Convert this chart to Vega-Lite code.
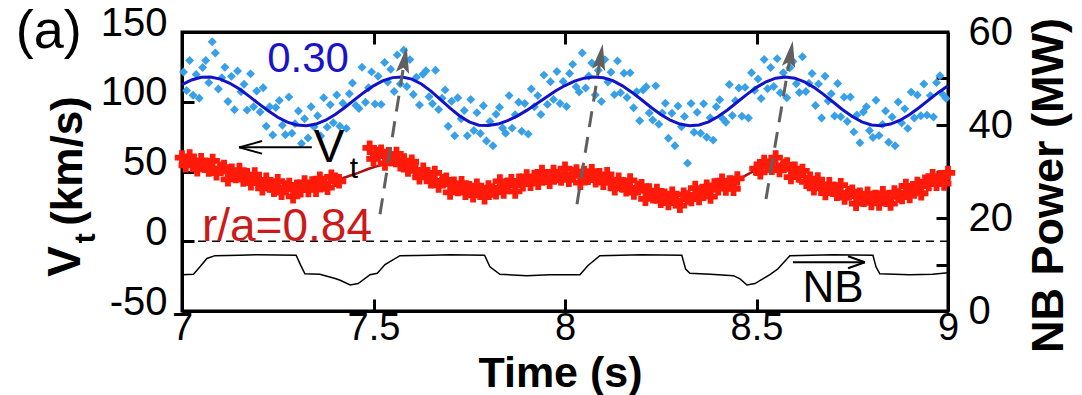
{
"$schema": "https://vega.github.io/schema/vega-lite/v6.json",
"width": 766, "height": 279,
"autosize": "none",
"padding": {"left": 182, "top": 32, "right": 134, "bottom": 84},
"background": "white",
"config": {
  "font": "Liberation Sans",
  "view": {"stroke": "black", "strokeWidth": 3},
  "axis": {"grid": false, "labelFont": "Liberation Sans", "labelFontSize": 40, "labelColor": "black", "labelFlush": false, "labelOverlap": false,
    "domainColor": "black", "domainWidth": 3, "tickColor": "black", "tickWidth": 3, "tickSize": -12,
    "titleFont": "Liberation Sans", "titleFontSize": 44, "titleFontWeight": "bold", "titleColor": "black"}
},
"datasets": {
  "blue": [
{"t":7.004,"v":121.3},{"t":7.012,"v":108.0},{"t":7.020,"v":129.6},{"t":7.029,"v":104.6},{"t":7.037,"v":119.6},{"t":7.045,"v":102.5},{"t":7.054,"v":124.5},{"t":7.062,"v":129.6},{"t":7.070,"v":113.7},{"t":7.079,"v":143},{"t":7.087,"v":135},{"t":7.095,"v":109.2},{"t":7.104,"v":117.2},{"t":7.112,"v":124.7},{"t":7.120,"v":100.2},{"t":7.129,"v":118.2},{"t":7.137,"v":94.2},{"t":7.145,"v":122.1},{"t":7.154,"v":107.1},{"t":7.162,"v":112.6},{"t":7.170,"v":94.0},{"t":7.179,"v":120},{"t":7.187,"v":96.4},{"t":7.195,"v":107.7},{"t":7.204,"v":92.7},{"t":7.212,"v":110.1},{"t":7.220,"v":82.5},{"t":7.229,"v":96.5},{"t":7.237,"v":76.2},{"t":7.245,"v":95.9},{"t":7.254,"v":100.9},{"t":7.262,"v":83.2},{"t":7.270,"v":76.4},{"t":7.279,"v":103.4},{"t":7.287,"v":77.4},{"t":7.295,"v":84.3},{"t":7.304,"v":93.3},{"t":7.312,"v":70.1},{"t":7.320,"v":87.8},{"t":7.329,"v":74},{"t":7.337,"v":96.4},{"t":7.345,"v":82.0},{"t":7.354,"v":90},{"t":7.362,"v":75.4},{"t":7.370,"v":102.8},{"t":7.379,"v":81.8},{"t":7.387,"v":97.9},{"t":7.395,"v":84.9},{"t":7.404,"v":104.9},{"t":7.412,"v":82.4},{"t":7.420,"v":98.9},{"t":7.429,"v":80.9},{"t":7.437,"v":105.7},{"t":7.445,"v":113.4},{"t":7.454,"v":97.4},{"t":7.462,"v":95.1},{"t":7.470,"v":124.7},{"t":7.479,"v":99.7},{"t":7.487,"v":110.1},{"t":7.495,"v":121.4},{"t":7.504,"v":98.4},{"t":7.512,"v":118.3},{"t":7.520,"v":98.1},{"t":7.529,"v":128.1},{"t":7.537,"v":114.2},{"t":7.545,"v":123.3},{"t":7.554,"v":107.3},{"t":7.562,"v":133.6},{"t":7.570,"v":112.8},{"t":7.579,"v":137},{"t":7.587,"v":111},{"t":7.595,"v":130.2},{"t":7.604,"v":105.2},{"t":7.612,"v":117.5},{"t":7.620,"v":97.7},{"t":7.629,"v":119.7},{"t":7.637,"v":122.2},{"t":7.645,"v":103.6},{"t":7.654,"v":98.6},{"t":7.662,"v":122.6},{"t":7.670,"v":94.5},{"t":7.679,"v":102.5},{"t":7.687,"v":108.5},{"t":7.695,"v":82.4},{"t":7.704,"v":100.4},{"t":7.712,"v":75.6},{"t":7.720,"v":102.8},{"t":7.729,"v":87.8},{"t":7.737,"v":93.7},{"t":7.745,"v":75.6},{"t":7.754,"v":101.6},{"t":7.762,"v":79.4},{"t":7.770,"v":92.2},{"t":7.779,"v":77.2},{"t":7.787,"v":97.1},{"t":7.795,"v":71.9},{"t":7.804,"v":85.9},{"t":7.812,"v":68.5},{"t":7.820,"v":91},{"t":7.829,"v":96},{"t":7.837,"v":81.2},{"t":7.845,"v":77.4},{"t":7.854,"v":104.4},{"t":7.862,"v":81.1},{"t":7.870,"v":90.7},{"t":7.879,"v":99.7},{"t":7.887,"v":78.8},{"t":7.895,"v":98.8},{"t":7.904,"v":76.8},{"t":7.912,"v":109.1},{"t":7.920,"v":96.4},{"t":7.929,"v":104.4},{"t":7.937,"v":90.8},{"t":7.945,"v":119.1},{"t":7.954,"v":98.1},{"t":7.962,"v":114.4},{"t":7.970,"v":101.7},{"t":7.979,"v":121.7},{"t":7.987,"v":98.7},{"t":7.995,"v":114.6},{"t":8.004,"v":96.6},{"t":8.012,"v":120.2},{"t":8.020,"v":126.8},{"t":8.029,"v":110.8},{"t":8.037,"v":106.9},{"t":8.045,"v":134.9},{"t":8.054,"v":109.9},{"t":8.062,"v":118.4},{"t":8.070,"v":127.8},{"t":8.079,"v":104.8},{"t":8.087,"v":122.5},{"t":8.095,"v":100.2},{"t":8.104,"v":130.2},{"t":8.112,"v":114.2},{"t":8.120,"v":121.1},{"t":8.129,"v":105.1},{"t":8.137,"v":129.3},{"t":8.145,"v":106.4},{"t":8.154,"v":120.4},{"t":8.162,"v":103.1},{"t":8.170,"v":120.7},{"t":8.179,"v":95.7},{"t":8.187,"v":107.1},{"t":8.195,"v":86.4},{"t":8.204,"v":108.4},{"t":8.212,"v":110.7},{"t":8.220,"v":91.9},{"t":8.229,"v":86.9},{"t":8.237,"v":111.4},{"t":8.245,"v":83.9},{"t":8.254,"v":91.9},{"t":8.262,"v":98.9},{"t":8.270,"v":73.8},{"t":8.279,"v":91.8},{"t":8.287,"v":68.4},{"t":8.295,"v":97},{"t":8.304,"v":82},{"t":8.312,"v":89.4},{"t":8.320,"v":56},{"t":8.329,"v":98.8},{"t":8.337,"v":78.1},{"t":8.345,"v":92.4},{"t":8.354,"v":77.4},{"t":8.362,"v":98.5},{"t":8.370,"v":74.6},{"t":8.379,"v":88.6},{"t":8.387,"v":72.5},{"t":8.395,"v":96.4},{"t":8.404,"v":101.4},{"t":8.412,"v":87.9},{"t":8.420,"v":85.3},{"t":8.429,"v":112.3},{"t":8.437,"v":90.1},{"t":8.445,"v":100.8},{"t":8.454,"v":109.8},{"t":8.462,"v":89.6},{"t":8.470,"v":110.3},{"t":8.479,"v":88.3},{"t":8.487,"v":120.8},{"t":8.495,"v":108.3},{"t":8.504,"v":116.3},{"t":8.512,"v":102.3},{"t":8.520,"v":130.3},{"t":8.529,"v":109.3},{"t":8.537,"v":124.6},{"t":8.545,"v":110.9},{"t":8.554,"v":130.9},{"t":8.562,"v":106.4},{"t":8.570,"v":120.8},{"t":8.579,"v":102.8},{"t":8.587,"v":124.4},{"t":8.595,"v":128.9},{"t":8.604,"v":112.9},{"t":8.612,"v":106.6},{"t":8.620,"v":132.3},{"t":8.629,"v":107.3},{"t":8.637,"v":113.3},{"t":8.645,"v":120.3},{"t":8.654,"v":97.3},{"t":8.662,"v":112.8},{"t":8.670,"v":88.3},{"t":8.679,"v":118.3},{"t":8.687,"v":100.6},{"t":8.695,"v":105.8},{"t":8.704,"v":89.8},{"t":8.712,"v":113.1},{"t":8.720,"v":89.3},{"t":8.729,"v":103.3},{"t":8.737,"v":85.9},{"t":8.745,"v":103.4},{"t":8.754,"v":78.4},{"t":8.762,"v":90.5},{"t":8.770,"v":70.6},{"t":8.779,"v":92.6},{"t":8.787,"v":96.5},{"t":8.795,"v":79.4},{"t":8.804,"v":74.4},{"t":8.812,"v":101.1},{"t":8.820,"v":75.8},{"t":8.829,"v":83.8},{"t":8.837,"v":93.4},{"t":8.845,"v":71},{"t":8.854,"v":89},{"t":8.862,"v":68.4},{"t":8.870,"v":99.8},{"t":8.879,"v":84.8},{"t":8.887,"v":94.9},{"t":8.895,"v":80.9},{"t":8.904,"v":106.9},{"t":8.912,"v":88.4},{"t":8.920,"v":104.9},{"t":8.929,"v":89.9},{"t":8.937,"v":112.7},{"t":8.945,"v":90.4},{"t":8.954,"v":104.4},{"t":8.962,"v":89.1},{"t":8.970,"v":113.7},{"t":8.979,"v":118.7},{"t":8.987,"v":105.1},{"t":8.995,"v":102.4}
  ],
  "bluefit": [
{"t":7.000,"v":112.3},{"t":7.025,"v":115.6},{"t":7.050,"v":117.5},{"t":7.075,"v":117.7},{"t":7.100,"v":116.2},{"t":7.125,"v":113.2},{"t":7.150,"v":109.1},{"t":7.175,"v":104.0},{"t":7.200,"v":98.7},{"t":7.225,"v":93.5},{"t":7.250,"v":88.9},{"t":7.275,"v":85.4},{"t":7.300,"v":83.3},{"t":7.325,"v":82.8},{"t":7.350,"v":84.0},{"t":7.375,"v":86.8},{"t":7.400,"v":90.9},{"t":7.425,"v":95.9},{"t":7.450,"v":101.4},{"t":7.475,"v":106.7},{"t":7.500,"v":111.4},{"t":7.525,"v":115.1},{"t":7.550,"v":117.3},{"t":7.575,"v":117.8},{"t":7.600,"v":116.2},{"t":7.625,"v":112.7},{"t":7.650,"v":107.6},{"t":7.675,"v":101.5},{"t":7.700,"v":95.4},{"t":7.725,"v":89.8},{"t":7.750,"v":85.6},{"t":7.775,"v":83.2},{"t":7.800,"v":82.9},{"t":7.825,"v":84.0},{"t":7.850,"v":86.4},{"t":7.875,"v":89.7},{"t":7.900,"v":93.8},{"t":7.925,"v":98.4},{"t":7.950,"v":103.1},{"t":7.975,"v":107.7},{"t":8.000,"v":111.6},{"t":8.025,"v":114.8},{"t":8.050,"v":116.9},{"t":8.075,"v":117.8},{"t":8.100,"v":117.2},{"t":8.125,"v":115.1},{"t":8.150,"v":111.4},{"t":8.175,"v":106.7},{"t":8.200,"v":101.4},{"t":8.225,"v":95.9},{"t":8.250,"v":90.9},{"t":8.275,"v":86.8},{"t":8.300,"v":84.0},{"t":8.325,"v":82.8},{"t":8.350,"v":83.4},{"t":8.375,"v":85.6},{"t":8.400,"v":89.4},{"t":8.425,"v":94.3},{"t":8.450,"v":99.8},{"t":8.475,"v":105.3},{"t":8.500,"v":110.3},{"t":8.525,"v":114.3},{"t":8.550,"v":116.9},{"t":8.575,"v":117.8},{"t":8.600,"v":116.9},{"t":8.625,"v":114.3},{"t":8.650,"v":110.3},{"t":8.675,"v":105.3},{"t":8.700,"v":99.8},{"t":8.725,"v":94.3},{"t":8.750,"v":89.4},{"t":8.775,"v":85.6},{"t":8.800,"v":83.4},{"t":8.825,"v":82.8},{"t":8.850,"v":84.0},{"t":8.875,"v":86.8},{"t":8.900,"v":90.9},{"t":8.925,"v":95.9},{"t":8.950,"v":101.4},{"t":8.975,"v":106.7},{"t":9.000,"v":111.4}
  ],
  "red": [
{"t":7.00,"v":60},{"t":7.01,"v":54.4},{"t":7.02,"v":60.8},{"t":7.03,"v":55.2},{"t":7.04,"v":51.6},{"t":7.05,"v":58},{"t":7.06,"v":54.2},{"t":7.07,"v":51.4},{"t":7.08,"v":57.6},{"t":7.09,"v":48.8},{"t":7.10,"v":52},{"t":7.11,"v":53.2},{"t":7.12,"v":44.4},{"t":7.13,"v":50.6},{"t":7.14,"v":46.8},{"t":7.15,"v":51},{"t":7.16,"v":44.2},{"t":7.17,"v":47.4},{"t":7.18,"v":41.6},{"t":7.19,"v":47.8},{"t":7.20,"v":42},{"t":7.21,"v":38},{"t":7.22,"v":44},{"t":7.23,"v":40},{"t":7.24,"v":37},{"t":7.25,"v":43},{"t":7.26,"v":34.8},{"t":7.27,"v":38.6},{"t":7.28,"v":40.4},{"t":7.29,"v":32.2},{"t":7.30,"v":39},{"t":7.31,"v":36.6},{"t":7.32,"v":42.2},{"t":7.33,"v":36.8},{"t":7.34,"v":41.4},{"t":7.35,"v":37},{"t":7.36,"v":44.8},{"t":7.37,"v":40.6},{"t":7.38,"v":38.4},{"t":7.39,"v":46.2},{"t":7.40,"v":44},{"t":7.41,"v":43},
{"t":7.49,"v":67},{"t":7.50,"v":59},{"t":7.51,"v":62.6},{"t":7.52,"v":64.2},{"t":7.53,"v":55.8},{"t":7.54,"v":62.4},{"t":7.55,"v":59},{"t":7.56,"v":62.6},{"t":7.57,"v":55.2},{"t":7.58,"v":57.8},{"t":7.59,"v":51.4},{"t":7.60,"v":57},{"t":7.61,"v":50.4},{"t":7.62,"v":45.8},{"t":7.63,"v":51.2},{"t":7.64,"v":46.6},{"t":7.65,"v":43},{"t":7.66,"v":49},{"t":7.67,"v":40},{"t":7.68,"v":43},{"t":7.69,"v":44},{"t":7.70,"v":35},{"t":7.71,"v":41.2},{"t":7.72,"v":37.4},{"t":7.73,"v":41.6},{"t":7.74,"v":34.8},{"t":7.75,"v":38},{"t":7.76,"v":32.9},{"t":7.77,"v":39.8},{"t":7.78,"v":34.7},{"t":7.79,"v":31.6},{"t":7.80,"v":38.5},{"t":7.81,"v":36.3},{"t":7.82,"v":35.1},{"t":7.83,"v":42.9},{"t":7.84,"v":35.7},{"t":7.85,"v":40.5},{"t":7.86,"v":43.1},{"t":7.87,"v":35.7},{"t":7.88,"v":43.3},{"t":7.89,"v":40.9},{"t":7.90,"v":46.5},{"t":7.91,"v":41.3},{"t":7.92,"v":46.1},{"t":7.93,"v":41.9},{"t":7.94,"v":49.7},{"t":7.95,"v":45.5},{"t":7.96,"v":42.6},{"t":7.97,"v":49.7},{"t":7.98,"v":46.8},{"t":7.99,"v":44.9},
{"t":8.00,"v":52},{"t":8.01,"v":44},{"t":8.02,"v":48},{"t":8.03,"v":50},{"t":8.04,"v":42},{"t":8.05,"v":49},{"t":8.06,"v":45.6},{"t":8.07,"v":50.2},{"t":8.08,"v":43.8},{"t":8.09,"v":47.4},{"t":8.10,"v":42},{"t":8.11,"v":48},{"t":8.12,"v":42},{"t":8.13,"v":38},{"t":8.14,"v":44},{"t":8.15,"v":40},{"t":8.16,"v":37.3},{"t":8.17,"v":43.6},{"t":8.18,"v":34.9},{"t":8.19,"v":38.2},{"t":8.20,"v":39.5},{"t":8.21,"v":30.4},{"t":8.22,"v":36.3},{"t":8.23,"v":32.2},{"t":8.24,"v":36.1},{"t":8.25,"v":29},{"t":8.26,"v":32.7},{"t":8.27,"v":27.4},{"t":8.28,"v":34.1},{"t":8.29,"v":28.8},{"t":8.30,"v":25.5},{"t":8.31,"v":33.4},{"t":8.32,"v":31.3},{"t":8.33,"v":30.2},{"t":8.34,"v":38.1},{"t":8.35,"v":31},{"t":8.36,"v":36},{"t":8.37,"v":39},{"t":8.38,"v":32},{"t":8.39,"v":40},{"t":8.40,"v":38},{"t":8.41,"v":43.4},{"t":8.42,"v":37.8},{"t":8.43,"v":42.2},{"t":8.44,"v":37.6},{"t":8.45,"v":45},
{"t":8.50,"v":52},{"t":8.51,"v":49.4},{"t":8.52,"v":56.8},{"t":8.53,"v":54.2},{"t":8.54,"v":52.6},{"t":8.55,"v":60},{"t":8.56,"v":51},{"t":8.57,"v":54},{"t":8.58,"v":55},{"t":8.59,"v":46},{"t":8.60,"v":52},{"t":8.61,"v":47.2},{"t":8.62,"v":50.4},{"t":8.63,"v":42.6},{"t":8.64,"v":44.8},{"t":8.65,"v":38},{"t":8.66,"v":44.2},{"t":8.67,"v":38.4},{"t":8.68,"v":34.6},{"t":8.69,"v":40.8},{"t":8.70,"v":37},{"t":8.71,"v":34.1},{"t":8.72,"v":40.2},{"t":8.73,"v":31.3},{"t":8.74,"v":34.4},{"t":8.75,"v":35.5},{"t":8.76,"v":26.9},{"t":8.77,"v":33.3},{"t":8.78,"v":29.7},{"t":8.79,"v":34.1},{"t":8.80,"v":27.5},{"t":8.81,"v":31.8},{"t":8.82,"v":27.1},{"t":8.83,"v":34.4},{"t":8.84,"v":29.7},{"t":8.85,"v":27},{"t":8.86,"v":34.9},{"t":8.87,"v":32.8},{"t":8.88,"v":31.7},{"t":8.89,"v":39.6},{"t":8.90,"v":32.5},{"t":8.91,"v":37.8},{"t":8.92,"v":41.1},{"t":8.93,"v":34.4},{"t":8.94,"v":42.7},{"t":8.95,"v":41},{"t":8.96,"v":46.6},{"t":8.97,"v":41.2},{"t":8.98,"v":45.8},{"t":8.99,"v":41.4},{"t":9.00,"v":49}
  ],
  "redfit": [
{"t":7.00,"v":57},{"t":7.05,"v":54},{"t":7.10,"v":50},{"t":7.15,"v":46},{"t":7.20,"v":42},{"t":7.25,"v":38.5},{"t":7.30,"v":37},{"t":7.35,"v":39},{"t":7.40,"v":43.5},{"t":7.45,"v":48},{"t":7.50,"v":53},{"t":7.55,"v":56},{"t":7.60,"v":53},{"t":7.65,"v":47},{"t":7.70,"v":40},{"t":7.75,"v":36},{"t":7.80,"v":35.5},{"t":7.85,"v":38.5},{"t":7.90,"v":42},{"t":7.95,"v":45.5},{"t":8.00,"v":47},{"t":8.05,"v":47},{"t":8.10,"v":45.5},{"t":8.15,"v":41.5},{"t":8.20,"v":37},{"t":8.25,"v":32},{"t":8.30,"v":30},{"t":8.35,"v":33},{"t":8.40,"v":38},{"t":8.45,"v":44},{"t":8.50,"v":51},{"t":8.55,"v":54},{"t":8.60,"v":50},{"t":8.65,"v":42},{"t":8.70,"v":36},{"t":8.75,"v":32},{"t":8.80,"v":30},{"t":8.85,"v":32},{"t":8.90,"v":36.5},{"t":8.95,"v":41},{"t":9.00,"v":45}
  ],
  "nb": [
{"t":7.000,"p":7.8},{"t":7.030,"p":7.9},{"t":7.047,"p":9.5},{"t":7.065,"p":11.3},{"t":7.086,"p":11.9},{"t":7.150,"p":12.0},{"t":7.200,"p":12.1},{"t":7.298,"p":12.0},{"t":7.310,"p":9.8},{"t":7.321,"p":8.0},{"t":7.360,"p":7.9},{"t":7.400,"p":7.0},{"t":7.413,"p":6.6},{"t":7.439,"p":5.6},{"t":7.460,"p":5.9},{"t":7.491,"p":7.8},{"t":7.510,"p":8.1},{"t":7.530,"p":10.0},{"t":7.569,"p":11.9},{"t":7.650,"p":12.0},{"t":7.700,"p":12.1},{"t":7.790,"p":12.0},{"t":7.804,"p":9.5},{"t":7.830,"p":7.9},{"t":7.900,"p":7.6},{"t":7.960,"p":7.8},{"t":8.039,"p":7.8},{"t":8.060,"p":9.8},{"t":8.091,"p":11.9},{"t":8.200,"p":12.1},{"t":8.305,"p":12.0},{"t":8.315,"p":9.0},{"t":8.326,"p":8.1},{"t":8.380,"p":7.9},{"t":8.440,"p":7.6},{"t":8.457,"p":6.9},{"t":8.475,"p":5.6},{"t":8.496,"p":5.9},{"t":8.535,"p":7.8},{"t":8.555,"p":9.0},{"t":8.587,"p":11.9},{"t":8.700,"p":12.1},{"t":8.804,"p":12.0},{"t":8.812,"p":9.5},{"t":8.822,"p":8.0},{"t":8.900,"p":7.8},{"t":8.960,"p":7.9},{"t":9.000,"p":8.2}
  ],
  "gray": [
{"t":7.517,"v":19.4,"t2":7.5804,"v2":128.6},{"t":8.0313,"v":26.6,"t2":8.0922,"v2":130.8},{"t":8.5248,"v":30.2,"t2":8.5883,"v2":132.9}
  ],
  "grayhead": [
{"t":7.5804,"v":128.6},{"t":8.0922,"v":130.8},{"t":8.5883,"v":132.9}
  ],
  "arrows": [
{"t":7.339,"v":67.3,"t2":7.149,"v2":67.3},{"t":7.149,"v":67.3,"t2":7.209,"v2":71.8},{"t":7.149,"v":67.3,"t2":7.209,"v2":62.8},
{"t":8.595,"v":-15.1,"t2":8.783,"v2":-15.1},{"t":8.783,"v":-15.1,"t2":8.739,"v2":-10.8},{"t":8.783,"v":-15.1,"t2":8.739,"v2":-19.4}
  ]
},
"layer": [
  {"data": {"name": "blue"},
   "mark": {"type": "point", "shape": "diamond", "filled": true, "size": 80, "color": "#38a0e8", "opacity": 1},
   "encoding": {
     "x": {"field": "t", "type": "quantitative", "scale": {"domain": [7, 9], "nice": false, "zero": false},
       "axis": {"orient": "bottom", "values": [7, 7.5, 8, 8.5, 9], "labelExpr": "'' + datum.value", "title": "Time (s)", "titleFontSize": 43, "titleX": 378, "titleY": 62, "titleBaseline": "middle", "titleAlign": "center", "labelFontSize": 38, "labelPadding": 10, "labelBaseline": "top", "labelAlign": "center"}},
     "y": {"field": "v", "type": "quantitative", "scale": {"domain": [-50, 150], "nice": false, "zero": false},
       "axis": {"orient": "left", "values": [-50, 0, 50, 100, 150], "labelExpr": "'' + datum.value", "title": null, "labelPadding": 27, "labelOffset": -9, "labelAlign": "right", "labelBaseline": "middle"}}
   }},
  {"data": {"name": "bluefit"},
   "mark": {"type": "line", "color": "#1212c8", "strokeWidth": 3},
   "encoding": {
     "x": {"field": "t", "type": "quantitative", "scale": {"domain": [7, 9], "nice": false, "zero": false}, "axis": null},
     "y": {"field": "v", "type": "quantitative", "scale": {"domain": [-50, 150], "nice": false, "zero": false}, "axis": null}}},
  {"data": {"name": "redfit"},
   "mark": {"type": "line", "color": "#a81212", "strokeWidth": 2.5, "interpolate": "monotone"},
   "encoding": {
     "x": {"field": "t", "type": "quantitative", "scale": {"domain": [7, 9], "nice": false, "zero": false}, "axis": null},
     "y": {"field": "v", "type": "quantitative", "scale": {"domain": [-50, 150], "nice": false, "zero": false}, "axis": null}}},
  {"data": {"name": "red"},
   "mark": {"type": "point", "shape": "cross", "filled": true, "size": 210, "color": "#ff1a0a", "opacity": 1},
   "encoding": {
     "x": {"field": "t", "type": "quantitative", "scale": {"domain": [7, 9], "nice": false, "zero": false}, "axis": null},
     "y": {"field": "v", "type": "quantitative", "scale": {"domain": [-50, 150], "nice": false, "zero": false}, "axis": null}}},
  {"data": {"values": [{}]},
   "mark": {"type": "rule", "color": "black", "strokeWidth": 1.5, "strokeDash": [8, 6]},
   "encoding": {"y": {"datum": 0, "type": "quantitative", "scale": {"domain": [-50, 150], "nice": false, "zero": false}, "axis": null}}},
  {"data": {"name": "gray"},
   "mark": {"type": "rule", "color": "#606060", "strokeWidth": 3, "strokeDash": [16, 10]},
   "encoding": {
     "x": {"field": "t", "type": "quantitative", "scale": {"domain": [7, 9], "nice": false, "zero": false}, "axis": null},
     "y": {"field": "v", "type": "quantitative", "scale": {"domain": [-50, 150], "nice": false, "zero": false}, "axis": null},
     "x2": {"field": "t2"}, "y2": {"field": "v2"}}},
  {"data": {"name": "grayhead"},
   "mark": {"type": "point", "shape": "M0,-1L0.45,0.75L0,0.4L-0.45,0.75Z", "filled": true, "size": 900, "angle": 9.3, "color": "#606060", "opacity": 1},
   "encoding": {
     "x": {"field": "t", "type": "quantitative", "scale": {"domain": [7, 9], "nice": false, "zero": false}, "axis": null},
     "y": {"field": "v", "type": "quantitative", "scale": {"domain": [-50, 150], "nice": false, "zero": false}, "axis": null}}},
  {"data": {"name": "arrows"},
   "mark": {"type": "rule", "color": "black", "strokeWidth": 2},
   "encoding": {
     "x": {"field": "t", "type": "quantitative", "scale": {"domain": [7, 9], "nice": false, "zero": false}, "axis": null},
     "y": {"field": "v", "type": "quantitative", "scale": {"domain": [-50, 150], "nice": false, "zero": false}, "axis": null},
     "x2": {"field": "t2"}, "y2": {"field": "v2"}}},
  {"data": {"values": [{"t": 6.652, "v": 138.5, "label": "(a)"}]},
   "mark": {"type": "text", "fontSize": 54, "align": "center", "baseline": "alphabetic", "color": "black"},
   "encoding": {
     "x": {"field": "t", "type": "quantitative", "scale": {"domain": [7, 9], "nice": false, "zero": false}, "axis": null},
     "y": {"field": "v", "type": "quantitative", "scale": {"domain": [-50, 150], "nice": false, "zero": false}, "axis": null},
     "text": {"field": "label"}}},
  {"data": {"values": [{"t": 7.329, "v": 121.4, "label": "0.30"}]},
   "mark": {"type": "text", "fontSize": 42, "align": "center", "baseline": "alphabetic", "color": "#1a14c8"},
   "encoding": {
     "x": {"field": "t", "type": "quantitative", "scale": {"domain": [7, 9], "nice": false, "zero": false}, "axis": null},
     "y": {"field": "v", "type": "quantitative", "scale": {"domain": [-50, 150], "nice": false, "zero": false}, "axis": null},
     "text": {"field": "label"}}},
  {"data": {"values": [{"t": 7.384, "v": 56.7, "label": "V"}]},
   "mark": {"type": "text", "fontSize": 46, "align": "center", "baseline": "alphabetic", "color": "black"},
   "encoding": {
     "x": {"field": "t", "type": "quantitative", "scale": {"domain": [7, 9], "nice": false, "zero": false}, "axis": null},
     "y": {"field": "v", "type": "quantitative", "scale": {"domain": [-50, 150], "nice": false, "zero": false}, "axis": null},
     "text": {"field": "label"}}},
  {"data": {"values": [{"t": 7.449, "v": 45, "label": "t"}]},
   "mark": {"type": "text", "fontSize": 30, "align": "center", "baseline": "alphabetic", "color": "black"},
   "encoding": {
     "x": {"field": "t", "type": "quantitative", "scale": {"domain": [7, 9], "nice": false, "zero": false}, "axis": null},
     "y": {"field": "v", "type": "quantitative", "scale": {"domain": [-50, 150], "nice": false, "zero": false}, "axis": null},
     "text": {"field": "label"}}},
  {"data": {"values": [{"t": 7.274, "v": 0.5, "label": "r/a=0.84"}]},
   "mark": {"type": "text", "fontSize": 46, "align": "center", "baseline": "alphabetic", "color": "#cc1a1a"},
   "encoding": {
     "x": {"field": "t", "type": "quantitative", "scale": {"domain": [7, 9], "nice": false, "zero": false}, "axis": null},
     "y": {"field": "v", "type": "quantitative", "scale": {"domain": [-50, 150], "nice": false, "zero": false}, "axis": null},
     "text": {"field": "label"}}},
  {"data": {"values": [{"t": 8.700, "v": -43.8, "label": "NB"}]},
   "mark": {"type": "text", "fontSize": 44, "align": "center", "baseline": "alphabetic", "color": "black"},
   "encoding": {
     "x": {"field": "t", "type": "quantitative", "scale": {"domain": [7, 9], "nice": false, "zero": false}, "axis": null},
     "y": {"field": "v", "type": "quantitative", "scale": {"domain": [-50, 150], "nice": false, "zero": false}, "axis": null},
     "text": {"field": "label"}}},
  {"data": {"values": [{"t": 6.697, "v": -14.4, "label": "V"}]},
   "mark": {"type": "text", "fontSize": 46, "fontWeight": "bold", "angle": 270, "align": "center", "baseline": "middle", "color": "black"},
   "encoding": {
     "x": {"field": "t", "type": "quantitative", "scale": {"domain": [7, 9], "nice": false, "zero": false}, "axis": null},
     "y": {"field": "v", "type": "quantitative", "scale": {"domain": [-50, 150], "nice": false, "zero": false}, "axis": null},
     "text": {"field": "label"}}},
  {"data": {"values": [{"t": 6.749, "v": 2.2, "label": "t"}]},
   "mark": {"type": "text", "fontSize": 30, "fontWeight": "bold", "angle": 270, "align": "center", "baseline": "middle", "color": "black"},
   "encoding": {
     "x": {"field": "t", "type": "quantitative", "scale": {"domain": [7, 9], "nice": false, "zero": false}, "axis": null},
     "y": {"field": "v", "type": "quantitative", "scale": {"domain": [-50, 150], "nice": false, "zero": false}, "axis": null},
     "text": {"field": "label"}}},
  {"data": {"values": [{"t": 6.705, "v": 57.5, "label": "(km/s)"}]},
   "mark": {"type": "text", "fontSize": 44, "fontWeight": "bold", "angle": 270, "align": "center", "baseline": "middle", "color": "black"},
   "encoding": {
     "x": {"field": "t", "type": "quantitative", "scale": {"domain": [7, 9], "nice": false, "zero": false}, "axis": null},
     "y": {"field": "v", "type": "quantitative", "scale": {"domain": [-50, 150], "nice": false, "zero": false}, "axis": null},
     "text": {"field": "label"}}},
  {"data": {"name": "nb"},
   "mark": {"type": "line", "color": "black", "strokeWidth": 1.5},
   "encoding": {
     "x": {"field": "t", "type": "quantitative", "scale": {"domain": [7, 9], "nice": false, "zero": false},
       "axis": {"orient": "top", "values": [7.5, 8, 8.5], "labels": false, "title": null}},
     "y": {"field": "p", "type": "quantitative", "scale": {"domain": [0, 60], "nice": false, "zero": false},
       "axis": {"orient": "right", "values": [0, 10, 20, 30, 40, 50, 60], "labelExpr": "datum.value % 20 === 0 ? '' + datum.value : ''", "labelPadding": 32, "labelAlign": "left", "labelBaseline": "middle",
         "title": "NB Power (MW)", "titleFontSize": 45, "titleAngle": 270, "titleX": 100, "titleY": 153, "titleAlign": "center", "titleBaseline": "middle"}}}
  }
],
"resolve": {"scale": {"y": "independent"}, "axis": {"x": "independent", "y": "independent"}}
}
